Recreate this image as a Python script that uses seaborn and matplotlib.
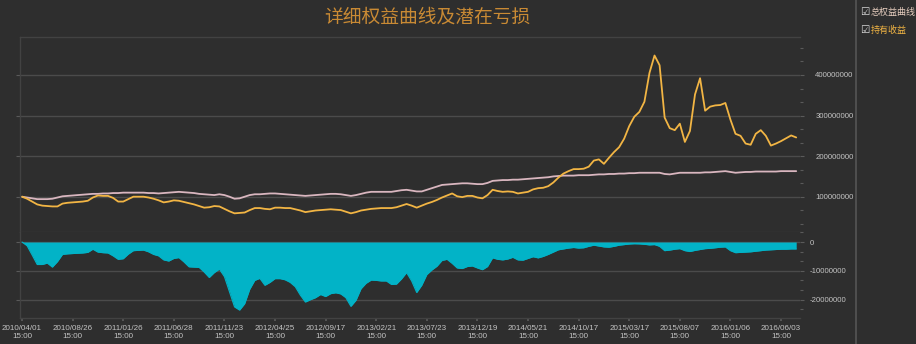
import numpy as np
import pandas as pd
import matplotlib
matplotlib.use("Agg")
import matplotlib.pyplot as plt
from matplotlib.ticker import MultipleLocator, FuncFormatter
import seaborn as sns

# ---------------- data (values in millions) ----------------
tick_dates = ["2010/04/01", "2010/08/26", "2011/01/26", "2011/06/28", "2011/11/23",
              "2012/04/25", "2012/09/17", "2013/02/21", "2013/07/23", "2013/12/19",
              "2014/05/21", "2014/10/17", "2015/03/17", "2015/08/07", "2016/01/06",
              "2016/06/03"]
tick_time = "15:00"

total_equity_m = [
    100, 98, 96, 94, 94, 94, 95, 98, 101, 102, 103, 104, 105, 106, 107, 107, 108, 108, 109, 109,
    110, 110, 110, 110, 110, 109, 109, 108, 109, 110, 111, 112, 111, 110, 109, 107, 106, 105, 104, 106,
    104, 100, 95, 96, 100, 104, 106, 106, 107, 108, 108, 107, 106, 105, 104, 103, 102, 103, 104, 105,
    106, 107, 107, 106, 104, 102, 104, 107, 110, 112, 112, 112, 112, 112, 114, 116, 117, 115, 113, 113,
    117, 121, 125, 129, 130, 131, 132, 133, 133, 132, 131, 131, 134, 139, 140, 141, 141, 142, 142, 143,
    144, 145, 146, 147, 148, 150, 151, 152, 152, 152, 153, 153, 153, 154, 155, 155, 156, 156, 157, 157,
    158, 158, 159, 159, 159, 159, 159, 156, 155, 157, 159, 159, 159, 159, 159, 160, 160, 161, 162, 163,
    161, 159, 160, 161, 161, 162, 162, 162, 162, 162, 163, 163, 163, 163]

holding_equity_m = [
    100, 95, 88, 81, 78, 77, 76, 76, 83, 85, 86, 87, 88, 90, 98, 103, 102, 102, 97, 88,
    88, 94, 100, 100, 100, 98, 95, 91, 86, 88, 91, 90, 87, 84, 81, 77, 73, 74, 77, 76,
    70, 64, 59, 60, 61, 67, 72, 72, 70, 69, 73, 73, 72, 72, 69, 66, 62, 64, 66, 67,
    68, 69, 68, 67, 63, 59, 62, 66, 68, 70, 71, 72, 72, 72, 74, 78, 82, 78, 73, 78,
    83, 87, 92, 98, 103, 108, 101, 99, 102, 102, 98, 96, 104, 117, 114, 112, 113, 112, 108, 110,
    112, 118, 121, 122, 126, 135, 147, 157, 163, 168, 168, 169, 174, 189, 192, 181, 196, 210, 222, 243,
    274, 297, 309, 334, 405, 448, 424, 295, 269, 264, 280, 235, 262, 352, 392, 312, 322, 325, 326, 331,
    290, 255, 250, 231, 228, 255, 264, 250, 226, 231, 237, 244, 251, 246]

drawdown_m = [
    0, -1.3, -4.5, -7.8, -7.8, -7.3, -8.7, -6.8, -4.3, -4.1, -4.0, -3.9, -3.8, -3.6, -2.5, -3.5, -3.7, -3.8, -4.8, -6.0,
    -5.8, -4.2, -3.0, -2.9, -2.8, -3.4, -4.3, -4.8, -6.2, -6.6, -5.7, -5.4, -6.9, -8.6, -8.7, -8.8, -10.4, -12.3, -10.6, -9.4,
    -12.0, -17.2, -22.5, -23.6, -21.4, -16.4, -13.3, -12.6, -15.0, -14.0, -12.7, -12.7, -13.1, -14.0, -15.5, -18.4, -20.8, -20.0, -19.3, -18.2,
    -18.9, -17.9, -17.6, -18.0, -19.3, -22.3, -20.2, -16.2, -14.3, -13.2, -13.3, -13.5, -13.5, -14.7, -14.6, -12.8, -10.6, -13.5, -17.5, -15.0,
    -11.3, -9.7, -8.4, -6.4, -6.0, -7.4, -9.0, -9.2, -8.5, -8.3, -9.0, -9.6, -8.5, -5.5, -6.0, -6.2, -5.9, -5.3, -6.2, -6.3,
    -5.7, -5.1, -5.5, -5.0, -4.3, -3.5, -2.7, -2.4, -2.1, -1.9, -2.1, -2.0, -1.5, -1.1, -1.4, -1.7, -1.8, -1.5, -1.1, -0.9,
    -0.7, -0.6, -0.65, -0.8, -1.0, -0.9, -1.5, -3.0, -2.8, -2.5, -2.3, -3.0, -3.3, -2.9, -2.6, -2.3, -2.2, -2.0, -1.8, -1.7,
    -3.0, -3.7, -3.6, -3.5, -3.4, -3.2, -3.0, -2.8, -2.7, -2.6, -2.5, -2.5, -2.4, -2.4]

title_text = "详细权益曲线及潜在亏损"
legend_labels = ["总权益曲线", "持有收益"]

# ---------------- styling ----------------
BG = "#2e2e2e"
GRID = "#4b4b4b"
SPINE = "#424242"
TXT = "#c4c4c4"
PINK = "#d9b6bf"
GOLD = "#f2b544"
CYAN = "#02b3c7"
TITLE_C = "#c98a34"

sns.set_theme(style="dark")
plt.rcParams["font.family"] = ["Noto Sans CJK SC", "DejaVu Sans"]
plt.rcParams["axes.facecolor"] = BG
plt.rcParams["figure.facecolor"] = BG

n = len(total_equity_m)
df = pd.DataFrame({
    "idx": np.arange(n),
    "total": np.array(total_equity_m) * 1e6,
    "hold": np.array(holding_equity_m) * 1e6,
    "dd": np.array(drawdown_m) * 1e6,
})

W, H = 916, 344
fig = plt.figure(figsize=(W / 100, H / 100), dpi=100)
fig.patch.set_facecolor(BG)

left_px, right_px = 20, 800
ax1 = fig.add_axes([left_px / W, 1 - 232 / H, (right_px - left_px) / W, (232 - 37) / H])
ax2 = fig.add_axes([left_px / W, 1 - 318 / H, (right_px - left_px) / W, (318 - 232) / H])

for ax in (ax1, ax2):
    ax.set_facecolor(BG)

sns.lineplot(data=df, x="idx", y="total", ax=ax1, color=PINK, lw=1.3, legend=False)
sns.lineplot(data=df, x="idx", y="hold", ax=ax1, color=GOLD, lw=1.3, legend=False)

sns.lineplot(data=df, x="idx", y="dd", ax=ax2, color=CYAN, lw=0.8, legend=False)
ax2.fill_between(df["idx"], df["dd"], 0, color=CYAN, lw=0)

xlim = (-0.4, 153.75)
ax1.set_xlim(*xlim)
ax2.set_xlim(*xlim)
ax1.set_ylim(13e6, 493.6e6)
ax2.set_ylim(-26.34e6, 3.47e6)

fmt = FuncFormatter(lambda v, p: f"{int(round(v))}")

ax1.set_yticks([1e8, 2e8, 3e8, 4e8])
ax1.yaxis.set_minor_locator(MultipleLocator(1e8 / 3))
ax2.set_yticks([-2e7, -1e7, 0])
ax2.yaxis.set_minor_locator(MultipleLocator(1e7 / 3))
for ax in (ax1, ax2):
    ax.yaxis.set_major_formatter(fmt)
    ax.set_xlabel("")
    ax.set_ylabel("")
    ax.grid(False)
    ax.grid(axis="y", which="major", color=GRID, lw=1.0)
    ax.tick_params(axis="y", which="both", right=True, labelleft=False,
                   labelright=True, direction="out", color="#5a5a5a", width=0.8,
                   labelsize=5.6, labelcolor=TXT)
    ax.tick_params(axis="y", which="major", left=True, length=3)
    ax.tick_params(axis="y", which="minor", left=False, length=2)
    for lab in ax.get_yticklabels():
        lab.set_fontfamily(["Liberation Sans", "DejaVu Sans"])
    for s in ax.spines.values():
        s.set_color(SPINE)
        s.set_linewidth(1.0)
    ax.spines["right"].set_visible(False)

ax1.tick_params(axis="y", pad=8)
ax2.tick_params(axis="y", pad=4)

ax1.set_xticks([])
ax1.spines["bottom"].set_color("#3a3a3a")
ax2.spines["top"].set_visible(False)

tick_pos = np.arange(len(tick_dates)) * 10
ax2.set_xticks(tick_pos)
ax2.set_xticklabels([f"{d}\n{tick_time}" for d in tick_dates], fontsize=5.8,
                    color=TXT, linespacing=1.25, fontfamily=["Liberation Sans", "DejaVu Sans"])
ax2.tick_params(axis="x", bottom=True, length=2, color="#5a5a5a", pad=3)

# title
fig.text(427 / W, 1 - 17 / H, title_text, ha="center", va="center",
         fontsize=13.5, color=TITLE_C, fontweight="light")

# right side panel separator
fig.add_artist(plt.Line2D([856 / W, 856 / W], [0, 1], color="#555555", lw=1.2,
                          transform=fig.transFigure))

# legend check boxes
for k, (lab, col) in enumerate(zip(legend_labels, ["#e8cfc0", GOLD])):
    yy = 1 - (12 + 18 * k) / H
    fig.text(860 / W, yy, "☑", ha="left", va="center", fontsize=7.5,
             color="#e0e0e0", family=["DejaVu Sans"])
    fig.text(871 / W, yy, lab, ha="left", va="center", fontsize=6.5, color=col)

fig.savefig("out.png", dpi=100, facecolor=BG)
